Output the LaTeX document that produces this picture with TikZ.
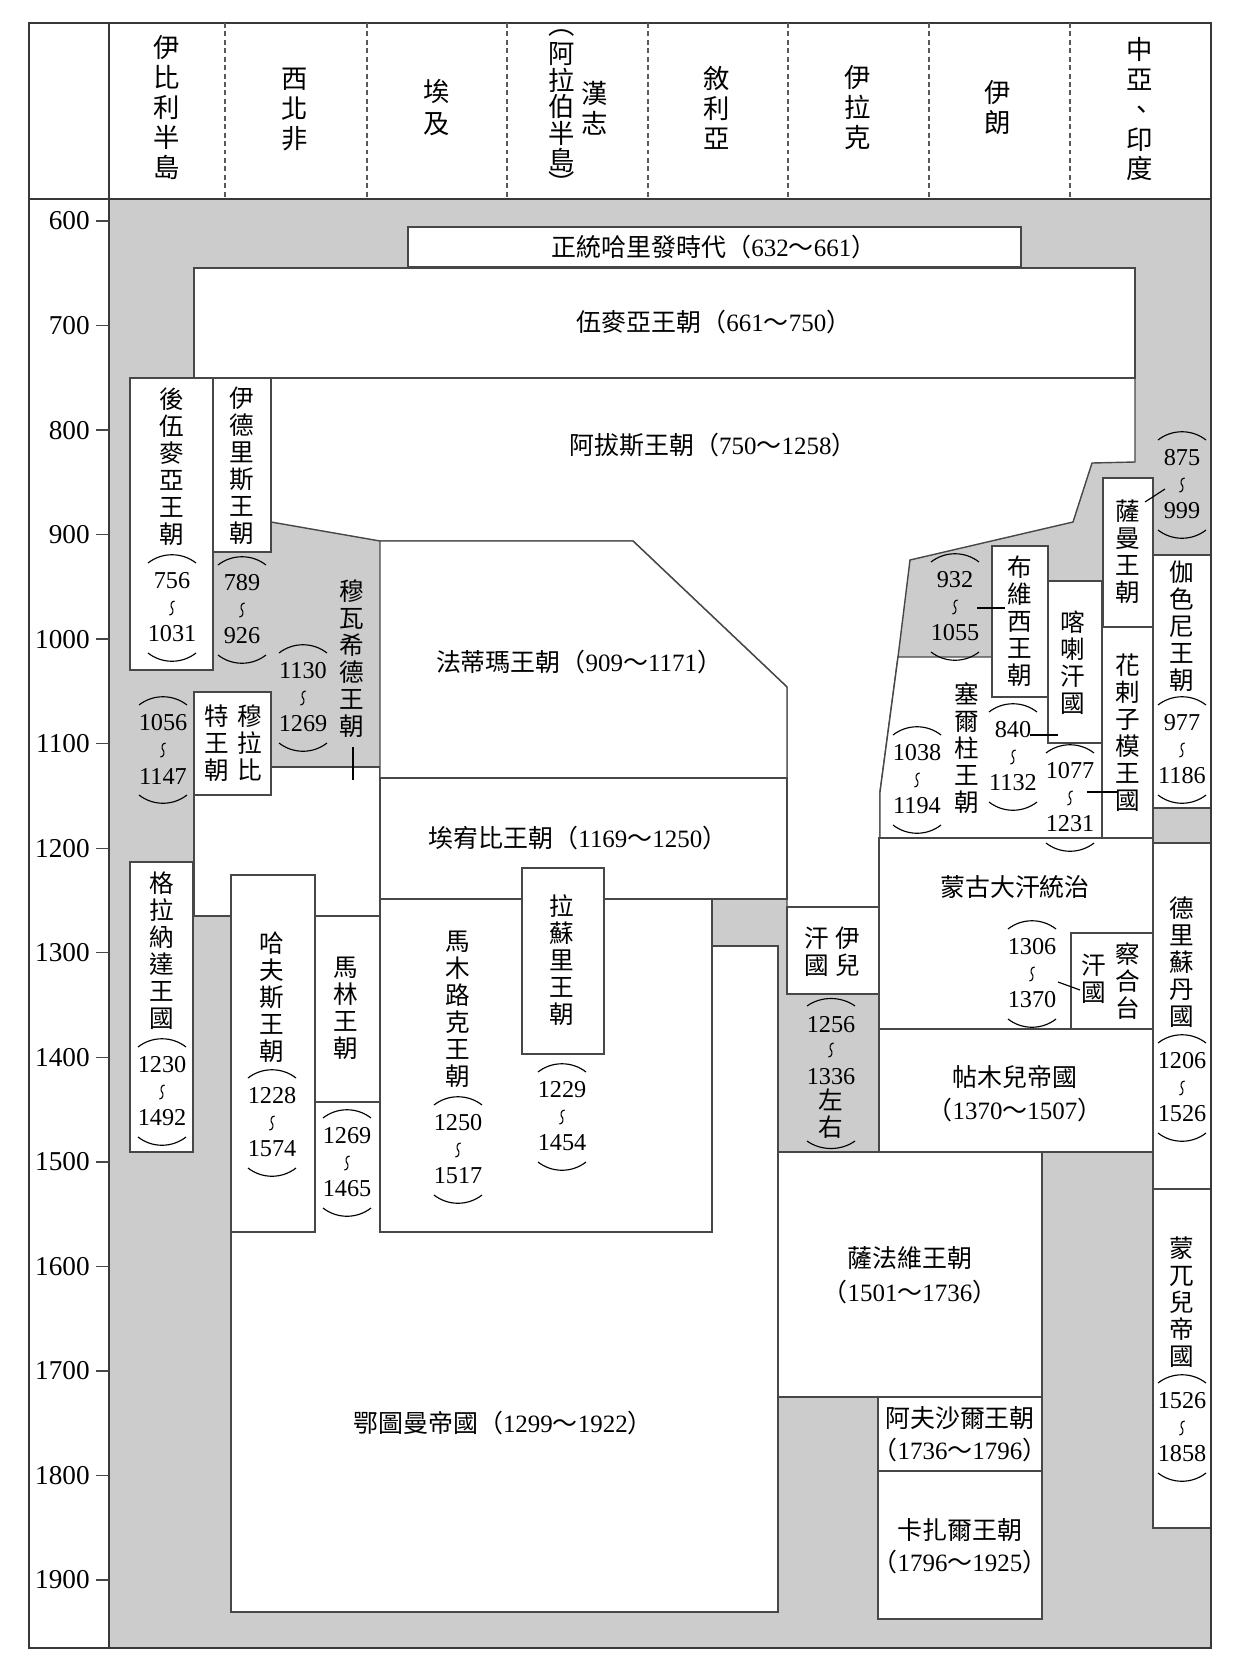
\documentclass[tikz,border=0pt]{standalone}
\usepackage{fontspec}
\setmainfont{Liberation Serif}
\newfontfamily\cjk{Noto Sans CJK TC}
% horizontal dynasty label: name (from~to)
\newcommand\dynlabel[3]{{\cjk #1（}#2{\cjk ～}#3{\cjk ）}}
\newcommand\yrpair[2]{{\cjk （}#1{\cjk ～}#2{\cjk ）}}

\tikzset{
  edge/.style={draw=black!72,line width=0.8pt,line join=miter},
  zone/.style={edge,fill=white},
  frame/.style={draw=black!78,line width=1pt},
  sep/.style={draw=black!65,line width=0.6pt,dash pattern=on 2.8pt off 2pt},
  fine/.style={draw=black,line width=0.65pt},
  hd/.style={font=\cjk\fontsize{15}{17.07}\selectfont,inner sep=0pt,align=center},
  vt/.style={font=\cjk\fontsize{14}{15.37}\selectfont,inner sep=0pt,align=center},
  ht/.style={font=\fontsize{14.2}{18.2}\selectfont,inner sep=0pt,align=center},
  num/.style={font=\fontsize{13.8}{16}\selectfont,inner sep=0pt},
  axisnum/.style={font=\fontsize{15.5}{18}\selectfont,inner sep=0pt,anchor=east},
  pics/yrs/.style 2 args={code={
    \draw[fine] (-24,-45) .. controls (-10,-56) and (10,-56) .. (24,-45);
    \node[num] (hi) at (0,-27) {#1};
    \draw[fine] (2.6,-7) .. controls (-1.6,-7) and (-1.6,-1) .. (0,0) .. controls (1.6,1) and (1.6,7) .. (-2.6,7);
    \node[num] (lo) at (0,26) {#2};
    \draw[fine] (-24,45) .. controls (-10,56) and (10,56) .. (24,45);
  }}
}

\begin{document}
\begin{tikzpicture}[x=0.02cm,y=-0.02cm]
\useasboundingbox (0,0) rectangle (1250,1663);
\fill[white] (0,0) rectangle (1250,1663);

% grey ground of the time chart
\fill[black!20] (109,199) rectangle (1211,1648);

% ---- territories ----
% Abbasid
\draw[zone] (271,378) -- (1135,378) -- (1135,462) -- (1092,463) -- (1073,522) -- (910,560)
  -- (898,657) -- (880,792) -- (880,907) -- (787,907) -- (787,687) -- (633,541)
  -- (380,541) -- (271,522) -- cycle;
\draw[zone] (408,227) rectangle (1021,267);   % Rashidun
\draw[zone] (194,268) rectangle (1135,378);   % Umayyad
\draw[zone] (130,378) rectangle (213,670);    % Umayyads of Cordoba
\draw[zone] (213,378) rectangle (271,552);    % Idrisid
% Almohad
\draw[zone] (194,795) -- (271,795) -- (271,767) -- (380,767) -- (380,916) -- (194,916) -- cycle;
\draw[zone] (194,692) rectangle (271,795);    % Almoravid
% Fatimid
\draw[zone] (380,541) -- (633,541) -- (787,687) -- (787,778) -- (380,778) -- cycle;
\draw[zone] (380,778) rectangle (787,899);    % Ayyubid
\draw[zone] (380,899) rectangle (712,1232);   % Mamluk
\draw[zone] (522,868) rectangle (604,1054);   % Rasulid
% Ottoman
\draw[zone] (231,1232) -- (315,1232) -- (315,1102) -- (380,1102) -- (380,1232) -- (712,1232)
  -- (712,946) -- (778,946) -- (778,1612) -- (231,1612) -- cycle;
\draw[zone] (130,862) rectangle (193,1152);   % Granada
\draw[zone] (231,875) rectangle (315,1232);   % Hafsid
\draw[zone] (315,916) rectangle (380,1102);   % Marinid
\draw[zone] (787,907) rectangle (879,994);    % Ilkhanate
% Seljuk
\draw[zone] (898,657) -- (992,657) -- (992,697) -- (1048,697) -- (1048,743) -- (1102,743)
  -- (1102,838) -- (880,838) -- (880,792) -- cycle;
\draw[zone] (992,546) rectangle (1048,697);   % Buyid
\draw[zone] (1048,581) rectangle (1102,743);  % Kara-Khanid
\draw[zone] (1103,478) rectangle (1153,627);  % Samanid
\draw[zone] (1102,627) rectangle (1153,838);  % Khwarazm
\draw[zone] (1153,555) rectangle (1211,808);  % Ghaznavid
\draw[zone] (879,838) rectangle (1153,1029);  % Mongol rule
\draw[zone] (1071,933) rectangle (1153,1029); % Chagatai
\draw[zone] (879,1029) rectangle (1153,1152); % Timurid
\draw[zone] (1153,843) rectangle (1211,1189); % Delhi
\draw[zone] (1153,1189) rectangle (1211,1528);% Mughal
\draw[zone] (778,1152) rectangle (1042,1397); % Safavid
\draw[zone] (878,1397) rectangle (1042,1471); % Afsharid
\draw[zone] (878,1471) rectangle (1042,1619); % Qajar

% ---- horizontal labels ----
\node[ht] (rashidun) at (714,247) {\dynlabel{正統哈里發時代}{632}{661}};
\node[ht] (umayyad) at (714,322) {\dynlabel{伍麥亞王朝}{661}{750}};
\node[ht] (abbasid) at (713,445) {\dynlabel{阿拔斯王朝}{750}{1258}};
\node[ht] (fatimid) at (579,662) {\dynlabel{法蒂瑪王朝}{909}{1171}};
\node[ht] (ayyubid) at (578,838) {\dynlabel{埃宥比王朝}{1169}{1250}};
\node[ht] (ottoman) at (503,1423) {\dynlabel{鄂圖曼帝國}{1299}{1922}};
\node[ht] (mongol) at (1015,887) {{\cjk 蒙古大汗統治}};
\node[ht] (timur) at (1015,1077) {{\cjk 帖木兒帝國}};
\node[ht] (timury) at (1015,1110) {\yrpair{1370}{1507}};
\node[ht] (safavid) at (910,1258) {{\cjk 薩法維王朝}};
\node[ht] (safavidy) at (910,1292) {\yrpair{1501}{1736}};
\node[ht] (afshar) at (960,1418) {{\cjk 阿夫沙爾王朝}};
\node[ht] (afshary) at (960,1450) {\yrpair{1736}{1796}};
\node[ht] (qajar) at (960,1530) {{\cjk 卡扎爾王朝}};
\node[ht] (qajary) at (960,1562) {\yrpair{1796}{1925}};

% ---- vertical labels ----
\node[vt] (cordoba) at (172,467) {後\\伍\\麥\\亞\\王\\朝};
\node[vt] (idrisid) at (242,466) {伊\\德\\里\\斯\\王\\朝};
\node[vt] (almor1) at (250,743) {穆\\拉\\比};
\node[vt] (almor2) at (217,743) {特\\王\\朝};
\node[vt] (almohad) at (352,659) {穆\\瓦\\希\\德\\王\\朝};
\node[vt] (granada) at (162,951) {格\\拉\\納\\達\\王\\國};
\node[vt] (hafsid) at (272,997) {哈\\夫\\斯\\王\\朝};
\node[vt] (marinid) at (346,1008) {馬\\林\\王\\朝};
\node[vt] (mamluk) at (458,1009) {馬\\木\\路\\克\\王\\朝};
\node[vt] (rasulid) at (562,960) {拉\\蘇\\里\\王\\朝};
\node[vt] (ilkh1) at (848,952) {伊\\兒};
\node[vt] (ilkh2) at (817,952) {汗\\國};
\node[vt] (buyid) at (1020,621) {布\\維\\西\\王\\朝};
\node[vt] (karakh) at (1073,663) {喀\\喇\\汗\\國};
\node[vt] (samanid) at (1128,552) {薩\\曼\\王\\朝};
\node[vt] (khwarazm) at (1128,733) {花\\剌\\子\\模\\王\\國};
\node[vt] (seljuk) at (967,748) {塞\\爾\\柱\\王\\朝};
\node[vt] (ghazna) at (1182,626) {伽\\色\\尼\\王\\朝};
\node[vt] (delhi) at (1182,962) {德\\里\\蘇\\丹\\國};
\node[vt] (mughal) at (1182,1302) {蒙\\兀\\兒\\帝\\國};
\node[vt] (chag1) at (1128,981) {察\\合\\台};
\node[vt] (chag2) at (1094,979) {汗\\國};

% ---- reign dates ----
\pic (dcordoba) at (172,608) {yrs={756}{1031}};
\pic (didrisid) at (242,610) {yrs={789}{926}};
\pic (dalmor) at (163,750) {yrs={1056}{1147}};
\pic (dalmohad) at (303,698) {yrs={1130}{1269}};
\pic (dgranada) at (162,1092) {yrs={1230}{1492}};
\pic (dhafsid) at (272,1123) {yrs={1228}{1574}};
\pic (dmarinid) at (347,1163) {yrs={1269}{1465}};
\pic (dmamluk) at (458,1150) {yrs={1250}{1517}};
\pic (drasulid) at (562,1117) {yrs={1229}{1454}};
\pic (dbuyid) at (955,607) {yrs={932}{1055}};
\pic (dkarakh) at (1013,757) {yrs={840}{1132}};
\pic (dseljuk) at (917,780) {yrs={1038}{1194}};
\pic (dkhwar) at (1070,798) {yrs={1077}{1231}};
\pic (dsamanid) at (1182,485) {yrs={875}{999}};
\pic (dghazna) at (1182,750) {yrs={977}{1186}};
\pic (dchag) at (1032,974) {yrs={1306}{1370}};
\pic (ddelhi) at (1182,1088) {yrs={1206}{1526}};
\pic (dmughal) at (1182,1428) {yrs={1526}{1858}};

% Ilkhanate dates, with "approx."
\draw[fine] (807,1006) .. controls (821,996) and (841,996) .. (855,1006);
\node[num] (ilkhhi) at (831,1025) {1256};
\draw[fine] (833.6,1043) .. controls (829.4,1043) and (829.4,1049) .. (831,1050) .. controls (832.6,1051) and (832.6,1057) .. (828.4,1057);
\node[num] (ilkhlo) at (831,1077) {1336};
\node[vt] (ilkhapx) at (831,1114) {左\\右};
\draw[fine] (807,1141) .. controls (821,1151) and (841,1151) .. (855,1141);

% ---- leader lines from labels to their territories ----
\draw[fine] (353,747) -- (353,780);
\draw[fine] (1145,502) -- (1165,489);
\draw[fine] (977,608) -- (1005,608);
\draw[fine] (1030,735) -- (1058,735);
\draw[fine] (1087,792) -- (1117,792);
\draw[fine] (1058,982) -- (1080,990);

% ---- region headings ----
\node[hd] (iberia) at (167,108) {伊\\比\\利\\半\\島};
\node[hd] (nwafrica) at (295,109) {西\\北\\非};
\node[hd,font=\cjk\fontsize{15}{18.2}\selectfont] (egypt) at (437,108) {埃\\及};
\node[hd] (hejaz) at (595,108) {漢\\志};
\node[hd,font=\cjk\fontsize{15}{15.2}\selectfont] (arabia) at (562,107.5) {阿\\拉\\伯\\半\\島};
\node[hd] (arabiaopen) at (562,33) {︵};
\node[hd] (arabiaclose) at (562,183) {︶};
\node[hd] (syria) at (717,108) {敘\\利\\亞};
\node[hd] (iraq) at (858,108) {伊\\拉\\克};
\node[hd] (iran) at (998,108) {伊\\朗};
\node[hd] (casia) at (1140,109) {中\\亞\\\hspace{.15em}、\\印\\度};

% ---- frame, heading rule, year axis ----
\draw[frame] (29,23) rectangle (1211,1648);
\draw[frame,line width=1.2pt] (29,199) -- (1211,199);
\draw[frame,line width=1.2pt] (109,23) -- (109,1648);
\foreach \x in {225,367,507,648,788,929,1070}
  \draw[sep] (\x,23) -- (\x,199);
\foreach \yr in {600,700,...,1900} {
  \pgfmathsetmacro\yy{221+1.0454*(\yr-600)}
  \draw[edge] (96,\yy) -- (109,\yy);
  \node[axisnum] (ax\yr) at (90,\yy) {\yr};
}
\end{tikzpicture}
\end{document}
